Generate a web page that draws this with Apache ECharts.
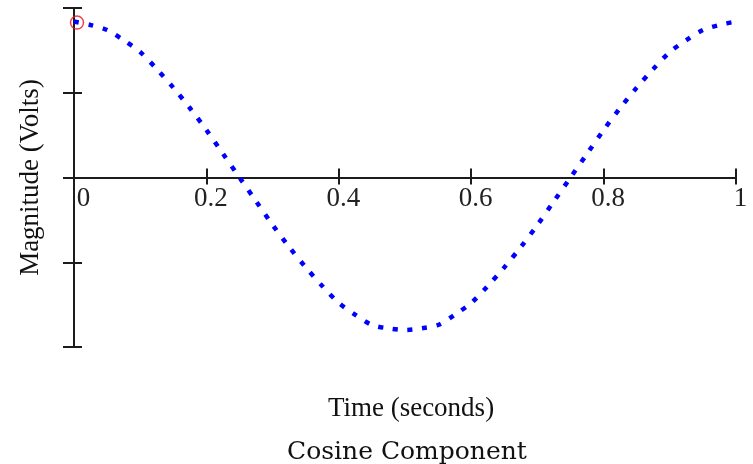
<!DOCTYPE html>
<html>
<head>
<meta charset="utf-8">
<script src="https://cdn.jsdelivr.net/npm/echarts@6/dist/echarts.min.js"></script>
<style>
  html, body { margin: 0; padding: 0; background: #fff; }
  #chart { width: 753px; height: 464px; }
</style>
</head>
<body>
<div id="chart"></div>
<script>
// Sample times (seconds) and the cosine component's magnitude (volts)
const times = [0, 0.025, 0.05, 0.075, 0.1, 0.125, 0.15, 0.175, 0.2, 0.225, 0.25,
               0.275, 0.3, 0.325, 0.35, 0.375, 0.4, 0.425, 0.45, 0.475, 0.5,
               0.525, 0.55, 0.575, 0.6, 0.625, 0.65, 0.675, 0.7, 0.725, 0.75,
               0.775, 0.8, 0.825, 0.85, 0.875, 0.9, 0.925, 0.95, 0.975, 1];
const magnitudes = [0.92, 0.9, 0.87, 0.81, 0.74, 0.64, 0.53, 0.41, 0.28, 0.14, 0,
                    -0.14, -0.28, -0.41, -0.53, -0.64, -0.74, -0.81, -0.87, -0.89, -0.9,
                    -0.89, -0.87, -0.81, -0.74, -0.64, -0.53, -0.41, -0.28, -0.14, 0,
                    0.14, 0.28, 0.41, 0.53, 0.64, 0.74, 0.81, 0.87, 0.9, 0.92];
// Highlighted sample point (time, magnitude)
const markedPoint = [0, 0.92];
// Time axis tick labels
const xTickLabels = ['0', '0.2', '0.4', '0.6', '0.8', '1'];

const serif = '"Liberation Serif", "Times New Roman", serif';
const axisColor = '#1c1c1c';

const gridTop = 8, gridBottom = 117, chartHeight = 464;
// distance from the grid's bottom edge up to the zero line (half the plot height)
const zeroLift = (chartHeight - gridTop - gridBottom) / 2;

const chart = echarts.init(document.getElementById('chart'), null, { renderer: 'canvas' });

const xBase = { type: 'value', min: 0, max: 1, interval: 0.2, splitLine: { show: false } };
const yBase = { type: 'value', min: -1, max: 1, interval: 0.5, splitLine: { show: false } };

chart.setOption({
  animation: false,
  backgroundColor: '#ffffff',
  grid: { left: 74, right: 17, top: gridTop, bottom: gridBottom, containLabel: false },
  title: [
    {
      text: 'Time (seconds)', left: 406, top: 390, textAlign: 'center',
      textStyle: { fontFamily: serif, fontSize: 27, fontWeight: 'normal', color: '#111' }
    },
    {
      text: 'Cosine Component', left: 402, top: 435, textAlign: 'center',
      textStyle: { fontFamily: '"DejaVu Serif", serif', fontSize: 25, fontWeight: 'normal', color: '#111' }
    }
  ],
  xAxis: [
    // axis line through zero with downward ticks
    Object.assign({}, xBase, {
      position: 'bottom',
      axisLine: { show: true, onZero: true, lineStyle: { color: axisColor, width: 2 } },
      axisTick: { show: true, inside: false, length: 7, lineStyle: { color: axisColor, width: 2 } },
      axisLabel: { show: false }
    }),
    // upward half of the crossing ticks
    Object.assign({}, xBase, {
      position: 'bottom',
      axisLine: { show: false, onZero: true, onZeroAxisIndex: 0 },
      axisTick: { show: true, inside: true, length: 9, lineStyle: { color: axisColor, width: 2 } },
      axisLabel: { show: false }
    }),
    // tick labels sitting just under the zero line
    Object.assign({}, xBase, {
      position: 'bottom',
      offset: -zeroLift,
      axisLine: { show: false, onZero: false },
      axisTick: { show: false },
      axisLabel: {
        show: true, margin: 8, padding: [0, 0, 0, 9],
        fontFamily: serif, fontSize: 27, color: '#222',
        formatter: (v) => {
          const i = Math.round(v / 0.2);
          // the origin label is nudged clear of the vertical axis
          return i === 0 ? '{origin|' + xTickLabels[i] + '}' : xTickLabels[i];
        },
        rich: {
          origin: { fontFamily: serif, fontSize: 27, color: '#222', padding: [0, 0, 0, 10] }
        }
      }
    })
  ],
  yAxis: [
    Object.assign({}, yBase, {
      position: 'left',
      name: 'Magnitude (Volts)',
      nameLocation: 'middle',
      nameGap: 30,
      nameTextStyle: { fontFamily: serif, fontSize: 27, color: '#111' },
      axisLine: { show: true, onZero: true, lineStyle: { color: axisColor, width: 2 } },
      axisTick: { show: true, inside: false, length: 11, lineStyle: { color: axisColor, width: 2 } },
      axisLabel: { show: false }
    }),
    Object.assign({}, yBase, {
      position: 'left',
      axisLine: { show: false, onZero: true, onZeroAxisIndex: 0 },
      axisTick: { show: true, inside: true, length: 8, lineStyle: { color: axisColor, width: 2 } },
      axisLabel: { show: false }
    })
  ],
  series: [
    {
      type: 'line',
      xAxisIndex: 0,
      yAxisIndex: 0,
      data: times.map((t, i) => [t, magnitudes[i]]),
      smooth: 0.3,
      showSymbol: false,
      lineStyle: { color: '#0000ff', width: 4.5, type: [5, 9.7], cap: 'butt' },
      z: 3
    },
    {
      type: 'scatter',
      xAxisIndex: 0,
      yAxisIndex: 0,
      data: [markedPoint],
      symbol: 'circle',
      symbolSize: 13,
      symbolOffset: [3, 1],
      itemStyle: { color: 'rgba(0,0,0,0)', borderColor: '#e8141a', borderWidth: 1.5 },
      z: 4
    }
  ]
});
</script>
</body>
</html>
